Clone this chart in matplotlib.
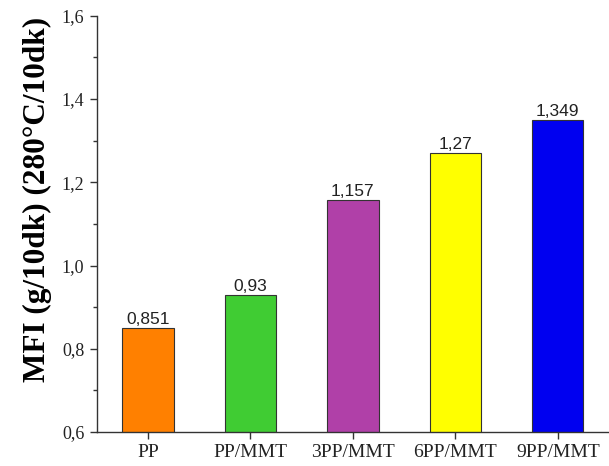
import matplotlib
matplotlib.use("Agg")
import matplotlib.pyplot as plt
from matplotlib.ticker import MultipleLocator, FuncFormatter

categories = ["PP", "PP/MMT", "3PP/MMT", "6PP/MMT", "9PP/MMT"]
values = [0.851, 0.93, 1.157, 1.27, 1.349]
labels = ["0,851", "0,93", "1,157", "1,27", "1,349"]
colors = ["#FF8000", "#40CC33", "#B040A8", "#FFFF00", "#0000F0"]

fig = plt.figure(figsize=(6.09, 4.66), dpi=100)
ax = fig.add_axes([0.159, 0.073, 0.841, 0.893])

x = list(range(len(categories)))
bars = ax.bar(x, values, width=0.5, color=colors, edgecolor="#333333", linewidth=0.8, zorder=2)
for xi, v, lab in zip(x, values, labels):
    ax.text(xi, v + 0.002, lab, ha="center", va="bottom", fontsize=12.5,
            family="Liberation Sans", color="#222222")

ax.set_ylim(0.6, 1.6)
ax.set_xlim(-0.5, 4.5)
ax.yaxis.set_major_locator(MultipleLocator(0.2))
ax.yaxis.set_minor_locator(MultipleLocator(0.1))
ax.yaxis.set_major_formatter(FuncFormatter(lambda v, p: f"{v:.1f}".replace(".", ",")))
ax.set_xticks(x)
ax.set_xticklabels(categories)
for lab in ax.get_xticklabels():
    lab.set_family("Liberation Serif")
    lab.set_fontsize(14)
    lab.set_color("#222222")
for lab in ax.get_yticklabels():
    lab.set_family("Liberation Serif")
    lab.set_fontsize(13)
    lab.set_color("#222222")

ax.spines["top"].set_visible(False)
ax.spines["right"].set_visible(False)
for s in ["left", "bottom"]:
    ax.spines[s].set_color("#333333")
    ax.spines[s].set_linewidth(1.0)
ax.tick_params(axis="both", which="major", direction="out", length=5, width=1, color="#333333")
ax.tick_params(axis="y", which="minor", direction="out", length=3, width=1, color="#333333")
ax.tick_params(axis="x", pad=4)
ax.tick_params(axis="y", pad=4)

ax.set_ylabel("MFI (g/10dk) (280°C/10dk)", fontsize=22.5, fontweight="bold",
              family="Liberation Serif", labelpad=7, y=0.56)

fig.savefig("out.png", dpi=100)
